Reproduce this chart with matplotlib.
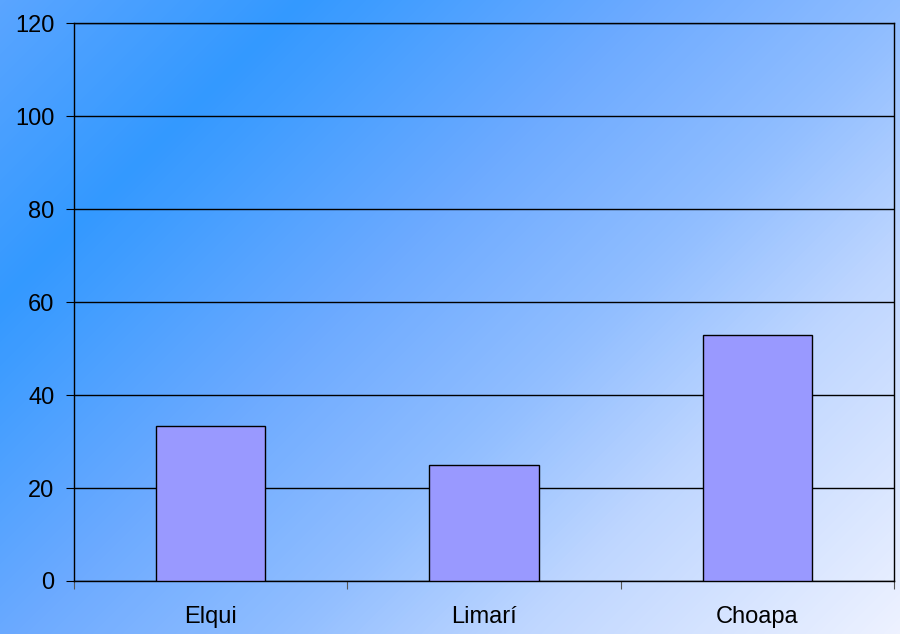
import matplotlib.pyplot as plt
import numpy as np
from matplotlib.colors import LinearSegmentedColormap

regions = ["Elqui", "Limarí", "Choapa"]
values = [33.3, 25.0, 52.9]
yticks = [0, 20, 40, 60, 80, 100, 120]

plt.rcParams['font.family'] = ['Liberation Sans', 'DejaVu Sans']

fig = plt.figure(figsize=(9, 6.34), dpi=100)

# Diagonal gradient background (45 degrees in pixel space)
bg = fig.add_axes([0, 0, 1, 1], zorder=0)
px, py = np.meshgrid(np.arange(900), np.arange(634))
s = (px + py) / 1534.0
cmap = LinearSegmentedColormap.from_list(
    "bg",
    [(0.0, "#5AA5FF"), (0.196, "#3399FF"), (0.42, "#6CAAFF"),
     (0.6, "#91BEFF"), (0.75, "#BED6FF"), (1.0, "#EEF2FF")])
bg.imshow(s, cmap=cmap, aspect="auto", extent=[0, 1, 0, 1], origin="upper",
          vmin=0, vmax=1)
bg.axis("off")

ax = fig.add_axes([0.0822, 0.0836, 0.911, 0.880], zorder=1)
ax.patch.set_alpha(0)

x = np.arange(len(regions))
ax.bar(x, values, width=0.4, color="#9999FF", edgecolor="black", linewidth=1, zorder=3)

ax.set_xlim(-0.5, len(regions) - 0.5)
ax.set_ylim(0, 120)
ax.set_yticks(yticks)
ax.yaxis.grid(True, color="black", linewidth=1, zorder=0)
ax.set_axisbelow(True)

# category boundaries as ticks, labels centred
ax.set_xticks(np.arange(len(regions) + 1) - 0.5)
ax.set_xticklabels([])
ax.set_xticks(x, minor=True)
ax.set_xticklabels(regions, minor=True)
ax.tick_params(axis="x", which="major", length=6, direction="out", color="#555555")
ax.tick_params(axis="x", which="minor", length=0, pad=18, labelsize=17)
ax.tick_params(axis="y", length=6, direction="out", pad=8, labelsize=17)

for side in ["left", "right", "bottom", "top"]:
    ax.spines[side].set_color("black")
    ax.spines[side].set_linewidth(1)

fig.savefig("out.png", dpi=100)
